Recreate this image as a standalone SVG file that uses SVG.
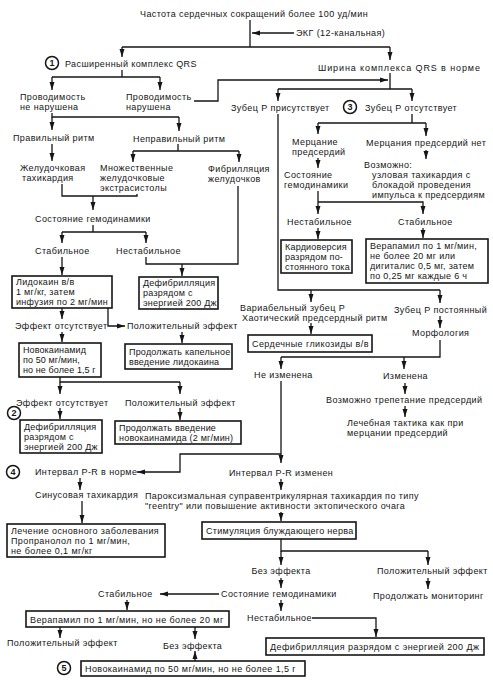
<svg xmlns="http://www.w3.org/2000/svg" width="493" height="685" viewBox="0 0 493 685">
<style>
text{font-family:"Liberation Sans",Arial,sans-serif;font-size:9px;letter-spacing:0.4px;fill:#151515}
text.bt{letter-spacing:0.3px}
.n{font-weight:bold;font-size:9px;letter-spacing:0;text-anchor:middle}
.m{text-anchor:middle}
.box{fill:none;stroke:#151515;stroke-width:1.6}
.cir{fill:#fff;stroke:#151515;stroke-width:1.5}
#edges path{fill:none;stroke:#151515;stroke-width:1.3}
#edges path.a{marker-end:url(#ah)}
</style>
<defs>
<marker id="ah" viewBox="0 0 8 6" refX="8" refY="3" markerWidth="8" markerHeight="6" markerUnits="userSpaceOnUse" orient="auto"><path d="M0,0.5 L8,3 L0,5.5 z" fill="#151515"/></marker>
</defs>
<rect width="493" height="685" fill="#fff"/>
<g id="edges">
<path d="M250,20 V47"/>
<path class="a" d="M294,33 H252"/>
<path d="M122,47 H390"/>
<path class="a" d="M122,47 V57"/>
<path class="a" d="M390,47 V60"/>
<path d="M122,70 V77 M52,77 H160"/>
<path class="a" d="M52,77 V90"/>
<path class="a" d="M160,77 V90"/>
<path class="a" d="M194,101 H218 V80 H388"/>
<path d="M390,73 V89 M278,89 H412"/>
<path class="a" d="M278,89 V101"/>
<path class="a" d="M412,89 V101"/>
<path d="M278,114 V290 H440"/>
<path class="a" d="M311,290 V302"/>
<path class="a" d="M440,290 V303"/>
<path d="M412,114 V123 M318,123 H426"/>
<path class="a" d="M318,123 V134"/>
<path class="a" d="M426,123 V136"/>
<path class="a" d="M318,158 V168"/>
<path class="a" d="M426,150 V159"/>
<path class="a" d="M318,191 V214"/>
<path class="a" d="M318,202 H423 V214"/>
<path class="a" d="M318,228 V239"/>
<path class="a" d="M423,228 V238"/>
<path d="M52,113 V117 H179"/>
<path class="a" d="M52,117 V130"/>
<path class="a" d="M179,117 V131"/>
<path class="a" d="M52,144 V161"/>
<path d="M178,144 V151 M133,151 H239"/>
<path class="a" d="M133,151 V162"/>
<path class="a" d="M239,151 V162"/>
<path d="M62,184 V196 H137 V194"/>
<path class="a" d="M93,196 V210"/>
<path d="M93,225 V232 M62,232 H146"/>
<path class="a" d="M62,232 V243"/>
<path class="a" d="M146,232 V243"/>
<path class="a" d="M62,257 V275"/>
<path d="M146,257 V264 H238 V186"/>
<path class="a" d="M182,264 V276"/>
<path class="a" d="M62,308 V319"/>
<path class="a" d="M108,308 V326 H125"/>
<path class="a" d="M62,332 V342"/>
<path class="a" d="M182,332 V343"/>
<path d="M60,377 V382 H180"/>
<path class="a" d="M60,382 V394"/>
<path class="a" d="M180,382 V394"/>
<path class="a" d="M60,408 V419"/>
<path class="a" d="M180,408 V420"/>
<path class="a" d="M311,323 V334"/>
<path class="a" d="M440,316 V328"/>
<path d="M440,340 V357 H281"/>
<path class="a" d="M281,357 V369"/>
<path class="a" d="M404,357 V369"/>
<path class="a" d="M405,383 V394"/>
<path class="a" d="M405,406 V417"/>
<path class="a" d="M281,381 V463"/>
<path class="a" d="M281,454 H180 V472 H137"/>
<path class="a" d="M80,478 V490"/>
<path class="a" d="M82,501 V523"/>
<path class="a" d="M281,479 V490"/>
<path class="a" d="M281,512 V521"/>
<path d="M281,539 V551 H428"/>
<path class="a" d="M281,551 V565"/>
<path class="a" d="M428,551 V565"/>
<path class="a" d="M281,578 V588"/>
<path class="a" d="M428,578 V589"/>
<path class="a" d="M219,594 H160"/>
<path class="a" d="M281,600 V611"/>
<path class="a" d="M312,618 H376 V637"/>
<path class="a" d="M127,600 V610"/>
<path class="a" d="M60,627 V638"/>
<path class="a" d="M195,627 V639"/>
<path class="a" d="M195,661 V651"/>
</g>
<g id="n_top"><text class="m" x="254" y="17">Частота сердечных сокращений более 100 уд/мин</text></g>
<g id="n_ekg"><text x="296" y="36">ЭКГ (12-канальная)</text></g>
<g id="n_wide"><circle class="cir" cx="52" cy="63" r="6.5"/><text class="n" x="52" y="66.3">1</text><text x="65" y="67">Расширенный комплекс QRS</text></g>
<g id="n_norm"><text x="318" y="71" style="letter-spacing:0.9px">Ширина комплекса QRS в норме</text></g>
<g id="n_cond_ok"><text x="20" y="100">Проводимость</text><text x="20" y="110">не нарушена</text></g>
<g id="n_cond_bad"><text x="126" y="100">Проводимость</text><text x="126" y="110">нарушена</text></g>
<g id="n_p_yes"><text x="231" y="111">Зубец Р присутствует</text></g>
<g id="n_p_no"><circle class="cir" cx="350" cy="107" r="6.5"/><text class="n" x="350" y="110.3">3</text><text x="365" y="111">Зубец Р отсутствует</text></g>
<g id="n_reg"><text x="13" y="141">Правильный ритм</text></g>
<g id="n_irreg"><text x="133" y="142">Неправильный ритм</text></g>
<g id="n_af"><text x="292" y="145">Мерцание</text><text x="292" y="155">предсердий</text></g>
<g id="n_noaf"><text x="366" y="146">Мерцания предсердий нет</text></g>
<g id="n_vt"><text x="20" y="171">Желудочковая</text><text x="22" y="181">тахикардия</text></g>
<g id="n_pvc"><text x="100" y="171">Множественные</text><text x="100" y="181">желудочковые</text><text x="100" y="191">экстрасистолы</text></g>
<g id="n_vf"><text x="208" y="172">Фибрилляция</text><text x="208" y="182">желудочков</text></g>
<g id="n_hemo_r"><text x="284" y="178">Состояние</text><text x="284" y="188">гемодинамики</text></g>
<g id="n_maybe"><text x="364" y="168">Возможно:</text><text x="372" y="178">узловая тахикардия с</text><text x="372" y="188">блокадой проведения</text><text x="372" y="198">импульса к предсердиям</text></g>
<g id="n_hemo_l"><text x="35" y="222">Состояние гемодинамики</text></g>
<g id="n_unst_r"><text x="287" y="225">Нестабильное</text></g>
<g id="n_st_r"><text x="398" y="225">Стабильное</text></g>
<g id="n_st_l"><text x="35" y="254">Стабильное</text></g>
<g id="n_unst_l"><text x="116" y="254">Нестабильное</text></g>
<g id="n_cardio"><rect class="box" x="281" y="240" width="71" height="33"/><text class="bt" style="letter-spacing:0.2px" x="285" y="250">Кардиоверсия</text><text class="bt" style="letter-spacing:0.2px" x="285" y="260">разрядом по-</text><text class="bt" style="letter-spacing:0.2px" x="285" y="270">стоянного тока</text></g>
<g id="n_verap1"><rect class="box" x="366" y="239" width="122" height="44"/><text class="bt" x="370" y="249">Верапамил по 1 мг/мин,</text><text class="bt" x="370" y="259">не более 20 мг или</text><text class="bt" x="370" y="269">дигиталис 0,5 мг, затем</text><text class="bt" x="370" y="279">по 0,25 мг каждые 6 ч</text></g>
<g id="n_lido"><rect class="box" x="12" y="276" width="100" height="32"/><text class="bt" x="16" y="285">Лидокаин в/в</text><text class="bt" x="16" y="295">1 мг/кг, затем</text><text class="bt" x="16" y="305">инфузия по 2 мг/мин</text></g>
<g id="n_defib1"><rect class="box" x="139" y="277" width="79" height="32"/><text class="bt" style="letter-spacing:0.25px" x="143" y="286">Дефибрилляция</text><text class="bt" style="letter-spacing:0.25px" x="143" y="296">разрядом с</text><text class="bt" style="letter-spacing:0.25px" x="143" y="306">энергией 200 Дж</text></g>
<g id="n_var"><text x="240" y="311">Вариабельный зубец Р</text><text x="242" y="321">Хаотический предсердный ритм</text></g>
<g id="n_pconst"><text x="394" y="313">Зубец Р постоянный</text></g>
<g id="n_noeff1"><text x="15" y="329">Эффект отсутствует</text></g>
<g id="n_pos1"><text x="127" y="329">Положительный эффект</text></g>
<g id="n_morph"><text x="412" y="336">Морфология</text></g>
<g id="n_glyc"><rect class="box" x="248" y="335" width="124" height="17"/><text class="bt" style="letter-spacing:0.4px" x="252" y="347">Сердечные гликозиды в/в</text></g>
<g id="n_novo1"><rect class="box" x="19" y="343" width="82" height="34"/><text class="bt" style="letter-spacing:0.1px" x="23" y="353">Новокаинамид</text><text class="bt" style="letter-spacing:0.1px" x="23" y="363">по 50 мг/мин,</text><text class="bt" style="letter-spacing:0.1px" x="23" y="373">но не более 1,5 г</text></g>
<g id="n_contlido"><rect class="box" x="125" y="344" width="107" height="25"/><text class="bt" style="letter-spacing:0.2px" x="129" y="355">Продолжать капельное</text><text class="bt" style="letter-spacing:0.2px" x="129" y="365">введение лидокаина</text></g>
<g id="n_noeff2"><text x="16" y="406">Эффект отсутствует</text></g>
<g id="n_pos2"><text x="125" y="406">Положительный эффект</text></g>
<g id="n_defib2"><circle class="cir" cx="14" cy="413" r="6.5"/><text class="n" x="14" y="416.3">2</text><rect class="box" x="20" y="420" width="82" height="33"/><text class="bt" style="letter-spacing:0.25px" x="24" y="430">Дефибрилляция</text><text class="bt" style="letter-spacing:0.25px" x="24" y="440">разрядом с</text><text class="bt" style="letter-spacing:0.25px" x="24" y="450">энергией 200 Дж</text></g>
<g id="n_contnovo"><rect class="box" x="115" y="421" width="126" height="23"/><text class="bt" style="letter-spacing:0.2px" x="119" y="431">Продолжать введение</text><text class="bt" style="letter-spacing:0.2px" x="119" y="441">новокаинамида (2 мг/мин)</text></g>
<g id="n_unch"><text x="254" y="378">Не изменена</text></g>
<g id="n_ch"><text x="383" y="379">Изменена</text></g>
<g id="n_flutter"><text x="326" y="403">Возможно трепетание предсердий</text></g>
<g id="n_tactic"><text x="347" y="426">Лечебная тактика как при</text><text x="347" y="436">мерцании предсердий</text></g>
<g id="n_prnorm"><circle class="cir" cx="13" cy="472" r="6.5"/><text class="n" x="13" y="475.3">4</text><text x="35" y="475">Интервал P-R в норме</text></g>
<g id="n_prch"><text x="229" y="476">Интервал P-R изменен</text></g>
<g id="n_sinus"><text x="35" y="498">Синусовая тахикардия</text></g>
<g id="n_psvt"><text x="145" y="499">Пароксизмальная суправентрикулярная тахикардия по типу</text><text x="145" y="509">"reentry" или повышение активности эктопического очага</text></g>
<g id="n_treat"><rect class="box" x="7" y="524" width="158" height="33"/><text class="bt" style="letter-spacing:0.4px" x="11" y="534">Лечение основного заболевания</text><text class="bt" style="letter-spacing:0.4px" x="11" y="544">Пропранолол по 1 мг/мин,</text><text class="bt" style="letter-spacing:0.4px" x="11" y="554">не более 0,1 мг/кг</text></g>
<g id="n_vagal"><rect class="box" x="202" y="522" width="154" height="17"/><text class="bt" x="206" y="534">Стимуляция блуждающего нерва</text></g>
<g id="n_noeff3"><text class="m" x="281" y="574">Без эффекта</text></g>
<g id="n_pos3"><text x="377" y="574">Положительный эффект</text></g>
<g id="n_hemo3"><text x="221" y="597">Состояние гемодинамики</text></g>
<g id="n_monitor"><text x="373" y="599">Продолжать мониторинг</text></g>
<g id="n_st3"><text x="98" y="597">Стабильное</text></g>
<g id="n_unst3"><text x="247" y="621">Нестабильное</text></g>
<g id="n_verap2"><rect class="box" x="26" y="611" width="203" height="16"/><text class="bt" style="letter-spacing:0.4px" x="30" y="622.5">Верапамил по 1 мг/мин, но не более 20 мг</text></g>
<g id="n_pos4"><text x="7" y="646">Положительный эффект</text></g>
<g id="n_noeff4"><text x="163" y="649">Без эффекта</text></g>
<g id="n_defib3"><rect class="box" x="266" y="638" width="218" height="17"/><text class="bt" style="letter-spacing:0.45px" x="270" y="650">Дефибрилляция разрядом с энергией 200 Дж</text></g>
<g id="n_novo2"><circle class="cir" cx="64" cy="668" r="6.5"/><text class="n" x="64" y="671.3">5</text><rect class="box" x="81" y="661" width="224" height="15"/><text class="bt" style="letter-spacing:0.4px" x="85" y="672">Новокаинамид по 50 мг/мин, но не более 1,5 г</text></g>
</svg>
